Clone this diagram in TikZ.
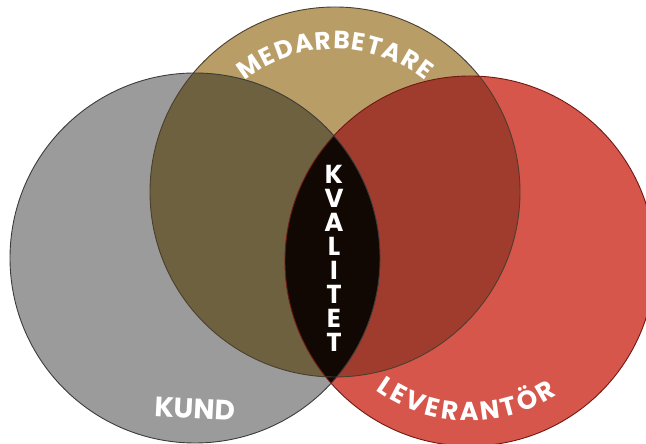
\documentclass[tikz,border=0pt]{standalone}
\usepackage{fontspec}
\setmainfont{Poppins}
\usetikzlibrary{decorations.text,calc}
\definecolor{cgray}{HTML}{9B9B9B}
\definecolor{ctan}{HTML}{B99D66}
\definecolor{cred}{HTML}{D6564B}
\definecolor{cgt}{HTML}{6E613F}
\definecolor{ctr}{HTML}{A03C2D}
\definecolor{clens}{HTML}{110804}
\definecolor{ogray}{HTML}{3C3C3C}
\definecolor{otan}{HTML}{4A3E30}
\definecolor{ored}{HTML}{6E1A12}
\tikzset{
  ring/.style={line width=0.9pt},
  lbl/.style={text=white, font=\bfseries\fontsize{28}{28}\selectfont, inner sep=0pt},
  kvl/.style={text=white, font=\bfseries\fontsize{26}{26}\selectfont, inner sep=0pt},
}
\begin{document}
\begin{tikzpicture}[x=1pt,y=1pt]
\useasboundingbox (0,0) rectangle (646,444);
\clip (0,0) rectangle (646,444);
\coordinate (gc) at (195,186);
\coordinate (tc) at (335,252);
\coordinate (rc) at (470,183);
% base fills
\fill[cgray] (gc) circle[radius=185];
\fill[ctan] (tc) circle[radius=185];
\fill[cred] (rc) circle[radius=185];
% overlaps
\begin{scope}
  \clip (tc) circle[radius=185];
  \fill[cgt] (gc) circle[radius=185];
  \fill[ctr] (rc) circle[radius=185];
\end{scope}
\begin{scope}
  \clip (gc) circle[radius=185];
  \fill[clens] (rc) circle[radius=185];
\end{scope}
% outlines
\draw[ring, ogray] (gc) circle[radius=185];
\draw[ring, otan] (tc) circle[radius=185];
\draw[ring, ored] (rc) circle[radius=185];
% curved labels
\path[decorate, decoration={text along path, text align=fit to path,
  text={|\color{white}\bfseries\fontsize{25}{25}\selectfont|MEDARBETARE}}]
  ($(tc)+(129:143)$) arc[start angle=129, end angle=51, radius=143];
\path[decorate, decoration={text along path, text align=fit to path,
  text={|\color{white}\bfseries\fontsize{26}{26}\selectfont|LEVERANTÖR}}]
  ($(rc)+(234:160)$) arc[start angle=234, end angle=303, radius=160];
% KUND
\node[lbl, rotate=-3] (kund) at (195,35) {KUND};
% KVALITET
\foreach \ch [count=\i] in {K,V,A,L,I,T,E,T} {
  \node[kvl] (kv\i) at (334,{269.5-24*(\i-1)}) {\ch};
}
\end{tikzpicture}
\end{document}
